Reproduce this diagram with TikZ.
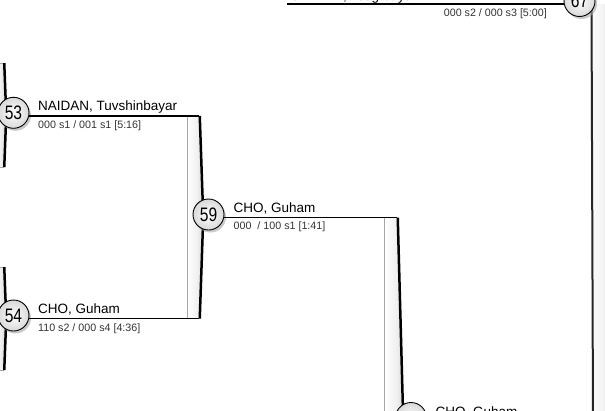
\documentclass[tikz,border=0pt]{standalone}
\usepackage{fontspec}
\setmainfont{Liberation Sans}
\usetikzlibrary{shadows,calc}
\pgfdeclarehorizontalshading{barshade}{100bp}{color(0bp)=(gray!50); color(25bp)=(white); color(60bp)=(white!88!gray); color(100bp)=(gray!55)}
\pgfdeclarehorizontalshading{rbarshade}{100bp}{color(0bp)=(white); color(50bp)=(white!92!gray); color(100bp)=(gray!50)}
\tikzset{
 pcirc/.style={circle, draw=black, line width=0.9pt, minimum size=31pt, inner sep=0pt,
   shading=radial, inner color=white, outer color=gray!30,
   drop shadow={shadow xshift=2pt, shadow yshift=-2.5pt, fill=gray!70, opacity=0.6},
   font=\fontsize{19.5}{19.5}\selectfont},
 namelbl/.style={inner sep=0pt, font=\fontsize{13.5}{14}\selectfont},
 scorelbl/.style={inner sep=0pt, font=\fontsize{10.7}{11}\selectfont, text=black!80},
 conn/.style={line width=1.8pt},
}
% #1 left x, #2 right x, #3 top y, #4 bottom y, #5 bulge
\newcommand{\bracketbar}[5]{%
  \path[shading=barshade]
    (#1,#3) -- (#2,#3) -- ({#2+#5},{(#3+#4)/2}) -- (#2,#4) -- (#1,#4) -- cycle;
  \draw[gray!70, line width=0.6pt] (#2,#3) -- (#1,#3) -- (#1,#4) -- (#2,#4);
  \fill[black] ({#2-0.5},#3) -- ({#2+2},#3) -- ({#2+#5+2.5},{(#3+#4)/2}) -- ({#2+2},#4)
    -- ({#2-0.5},#4) -- ({#2+#5},{(#3+#4)/2}) -- cycle;
}
\begin{document}
\begin{tikzpicture}[x=1pt,y=-1pt]
\useasboundingbox (0,0) rectangle (605,410);
% bars
\bracketbar{-10}{3.5}{63}{167}{1.5}
\bracketbar{-10}{3.5}{267}{370}{1.5}
\bracketbar{187}{199}{115.8}{318.5}{3}
\bracketbar{384}{397}{217.5}{624.5}{5}
% right bar (mirrored)
\path[shading=rbarshade] (592,4) rectangle (612,420);
\fill[black!85] (590.5,4) -- (592.5,4) -- (594,420) -- (592,420) -- cycle;
% circles
\node[pcirc] (c53) at (13.5,112.8) {\scalebox{0.8}[1]{53}};
\node[pcirc] (c54) at (13.5,315.5) {\scalebox{0.8}[1]{54}};
\node[pcirc] (c59) at (208.5,214.5) {\scalebox{0.8}[1]{59}};
\node[pcirc] (c67) at (579.5,1) {\scalebox{0.8}[1]{67}};
\node[pcirc] (cB) at (411,418) {};
% connector ends
\coordinate (b1t) at (199,115.8);
\coordinate (b1b) at (199,318.5);
\coordinate (b2t) at (397,217.5);
\coordinate (t67) at (287,4);
\draw[conn] (c53.east |- b1t) -- (b1t);
\draw[conn] (c54.east |- b1b) -- (b1b);
\draw[conn] (c59.east |- b2t) -- (b2t);
\draw[conn] (c67.west |- t67) -- (t67);
% labels
\node[namelbl, anchor=base west] (n53) at (38,110.8) {NAIDAN, Tuvshinbayar};
\node[scorelbl, anchor=base west] (s53) at (38,128) {000 s1 / 001 s1 [5:16]};
\node[namelbl, anchor=base west] (n54) at (38,313.5) {CHO, Guham};
\node[scorelbl, anchor=base west] (s54) at (38,331) {110 s2 / 000 s4 [4:36]};
\node[namelbl, anchor=base west] (n59) at (233.5,212.5) {CHO, Guham};
\node[scorelbl, anchor=base west] (s59) at (233.5,229.5) {000\ \ / 100 s1 [1:41]};
\node[namelbl, anchor=base west] (n67) at (290,0) {GANBAT, Tsogtbayar};
\node[scorelbl, anchor=base east] (s67) at (547,16.5) {000 s2 / 000 s3 [5:00]};
\node[namelbl, anchor=base west] (nB) at (435.5,416) {CHO, Guham};
\end{tikzpicture}
\end{document}
